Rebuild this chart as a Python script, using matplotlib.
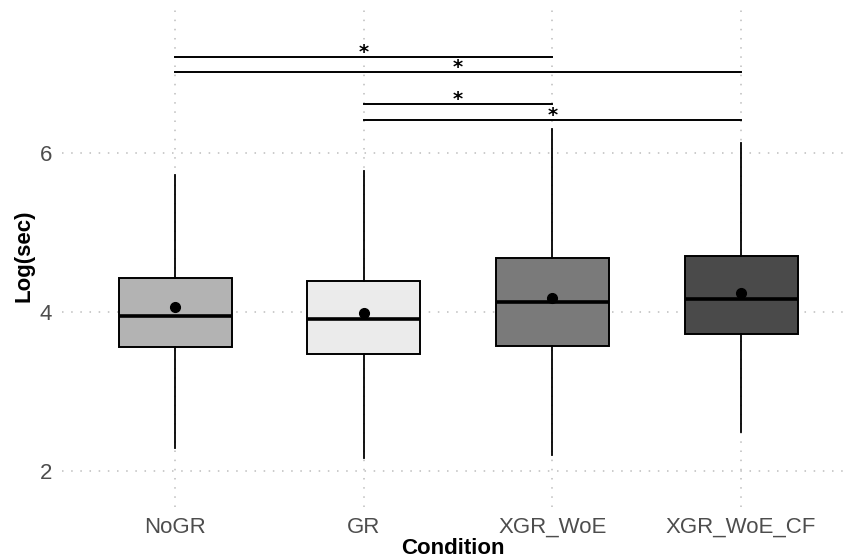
import matplotlib.pyplot as plt

plt.rcParams['font.family'] = ['Liberation Sans', 'DejaVu Sans']

conditions = ["NoGR", "GR", "XGR_WoE", "XGR_WoE_CF"]
fills = ["#b3b3b3", "#ebebeb", "#7a7a7a", "#4a4a4a"]

# box summaries (log seconds)
q1 = [3.56, 3.47, 3.57, 3.72]
median = [3.95, 3.91, 4.13, 4.16]
q3 = [4.43, 4.39, 4.68, 4.70]
whislo = [2.29, 2.16, 2.20, 2.49]
whishi = [5.72, 5.77, 6.30, 6.13]
means = [4.06, 3.99, 4.18, 4.24]

# significance brackets: (from, to, height)
brackets = [(0, 2, 7.21), (0, 3, 7.02), (1, 2, 6.62), (1, 3, 6.42)]

fig = plt.figure(figsize=(8.43, 5.6), dpi=100)
ax = fig.add_axes([0.0735, 0.0946, 0.9265, 0.8964])

stats = []
for i, name in enumerate(conditions):
    stats.append(dict(label=name, q1=q1[i], med=median[i], q3=q3[i],
                      whislo=whislo[i], whishi=whishi[i], fliers=[]))

pos = list(range(1, len(conditions) + 1))
bp = ax.bxp(stats, positions=pos, widths=0.6, patch_artist=True,
            showcaps=False, showfliers=False,
            boxprops=dict(edgecolor="black", linewidth=1.4),
            whiskerprops=dict(color="black", linewidth=1.3),
            medianprops=dict(color="black", linewidth=2.6, solid_capstyle="butt"),
            zorder=3)
for patch, c in zip(bp["boxes"], fills):
    patch.set_facecolor(c)

ax.plot(pos, means, "o", color="black", ms=7, zorder=4)

for a, b, h in brackets:
    ax.plot([pos[a], pos[b]], [h, h], color="black", lw=1.4, zorder=3)
    ax.text((pos[a] + pos[b]) / 2, h + 0.05, "*", ha="center", va="center",
            fontsize=14, fontweight="bold", color="black",
            family="DejaVu Sans")

ax.set_xlim(0.4, 4.54)
ax.set_ylim(1.55, 7.86)
ax.set_yticks([2, 4, 6])
ax.set_xticks(pos)
ax.set_xticklabels(conditions)

ax.grid(True, color="#bdbdbd", linestyle=(0, (1, 5)), linewidth=1.1, zorder=0)
ax.set_axisbelow(True)
for s in ax.spines.values():
    s.set_visible(False)
ax.tick_params(length=0, labelsize=16, labelcolor="#4d4d4d", pad=7)

ax.set_xlabel("Condition", fontsize=16, fontweight="bold", labelpad=0)
ax.set_ylabel("Log(sec)", fontsize=16, fontweight="bold", labelpad=4)

fig.savefig("out.png", dpi=100)
